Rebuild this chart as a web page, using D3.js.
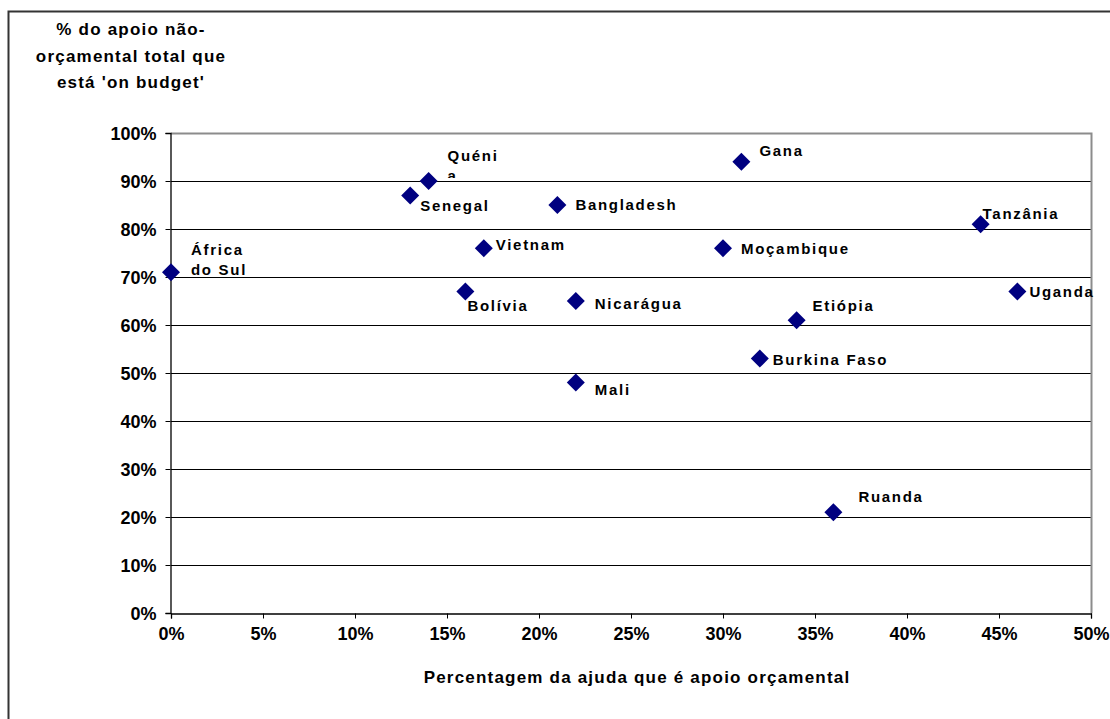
<!DOCTYPE html>
<html lang="pt">
<head>
<meta charset="utf-8">
<script src="https://cdn.jsdelivr.net/npm/d3@7"></script>
<style>
  html, body { margin: 0; padding: 0; background: #fff; }
  svg { display: block; font-family: Arial, "Liberation Sans", sans-serif; }
</style>
</head>
<body>
<svg id="chart" width="1110" height="719"></svg>
<script>
// Country names
const countries = ["África do Sul", "Senegal", "Quénia", "Bolívia", "Vietnam", "Bangladesh",
  "Nicarágua", "Mali", "Moçambique", "Gana", "Burkina Faso", "Etiópia", "Ruanda", "Tanzânia", "Uganda"];
// % of aid given as budget support
const budgetSupport = [0, 13, 14, 16, 17, 21, 22, 22, 30, 31, 32, 34, 36, 44, 46];
// % of non-budget support that is 'on budget'
const onBudget = [71, 87, 90, 67, 76, 85, 65, 48, 76, 94, 53, 61, 21, 81, 67];

// Tick values
const xTicks = [0, 5, 10, 15, 20, 25, 30, 35, 40, 45, 50];
const yTicks = [0, 10, 20, 30, 40, 50, 60, 70, 80, 90, 100];

// Label text lines and offsets (px) from each marker to the label's first baseline
const labelLines = [["África", "do Sul"], ["Senegal"], ["Quéni", "a"], ["Bolívia"], ["Vietnam"], ["Bangladesh"],
  ["Nicarágua"], ["Mali"], ["Moçambique"], ["Gana"], ["Burkina Faso"], ["Etiópia"], ["Ruanda"], ["Tanzânia"], ["Uganda"]];
const labelDx = [20, 10, 19, 2, 12, 18, 19, 19, 18, 18, 13, 16, 25, 2, 12];
const labelDy = [-17, 16, -20, 20, 1.5, 5, 8, 12, 6, -6, 6, -9, -10, -5, 6];

const svg = d3.select("#chart");
const plot = { left: 171, right: 1091, top: 133, bottom: 613 };

const x = d3.scaleLinear().domain([0, 50]).range([plot.left, plot.right]);
const y = d3.scaleLinear().domain([0, 100]).range([plot.bottom, plot.top]);

// Outer chart frame (runs off the right and bottom edges)
svg.append("rect")
  .attr("x", 8.5).attr("y", 11.5)
  .attr("width", 1120).attr("height", 720)
  .attr("fill", "none").attr("stroke", "#333").attr("stroke-width", 2);

// Horizontal gridlines
svg.append("g")
  .selectAll("line")
  .data(yTicks.filter(d => d > 0 && d < 100))
  .join("line")
  .attr("x1", plot.left).attr("x2", plot.right)
  .attr("y1", d => Math.round(y(d)) + 0.5).attr("y2", d => Math.round(y(d)) + 0.5)
  .attr("stroke", "#000").attr("stroke-width", 1);

// Plot area border (top and right, grey)
svg.append("path")
  .attr("d", `M${plot.left},${plot.top + 0.5}H${plot.right + 0.5}V${plot.bottom}`)
  .attr("fill", "none").attr("stroke", "#8c8c8c").attr("stroke-width", 2);

// Axes
const xAxis = d3.axisBottom(x).tickValues(xTicks).tickSize(5).tickPadding(9)
  .tickFormat(d => d + "%");
const yAxis = d3.axisLeft(y).tickValues(yTicks).tickSize(5).tickPadding(9)
  .tickFormat(d => d + "%");

const gx = svg.append("g").attr("transform", `translate(0,${plot.bottom + 0.5})`).call(xAxis);
const gy = svg.append("g").attr("transform", `translate(${plot.left - 0.5},0)`).call(yAxis);

[gx, gy].forEach(g => {
  g.select(".domain").attr("stroke", "#000").attr("stroke-width", 1.3);
  g.selectAll(".tick line").attr("stroke", "#000").attr("stroke-width", 1);
  g.selectAll(".tick text")
    .attr("fill", "#000")
    .attr("font-size", 18)
    .attr("font-weight", "bold")
    .attr("font-family", "Arial, 'Liberation Sans', sans-serif");
});
gx.selectAll(".tick text").attr("dy", "0.71em");
gy.selectAll(".tick text").attr("dy", "0.35em");

// Axis titles
svg.append("text")
  .attr("x", (plot.left + plot.right) / 2 + 6)
  .attr("y", 683)
  .attr("text-anchor", "middle")
  .attr("font-size", 17).attr("font-weight", "bold")
  .attr("letter-spacing", 1.2)
  .text("Percentagem da ajuda que é apoio orçamental");

const yTitle = ["% do apoio não-", "orçamental total que", "está 'on budget'"];
svg.append("text")
  .attr("text-anchor", "middle")
  .attr("font-size", 17).attr("font-weight", "bold")
  .attr("letter-spacing", 1.2)
  .selectAll("tspan")
  .data(yTitle)
  .join("tspan")
  .attr("x", 131)
  .attr("y", (d, i) => 35 + i * 26.5)
  .text(d => d);

// Data
const points = countries.map((c, i) => ({
  name: c, xv: budgetSupport[i], yv: onBudget[i],
  lines: labelLines[i], dx: labelDx[i], dy: labelDy[i]
}));

// Markers
const r = 9;
svg.append("g")
  .selectAll("path")
  .data(points)
  .join("path")
  .attr("transform", d => `translate(${x(d.xv)},${y(d.yv)})`)
  .attr("d", `M0,${-r}L${r},0L0,${r}L${-r},0Z`)
  .attr("fill", "#000080");

// Label boxes; the wrapped Quénia label is cut off just above its marker
const defs = svg.append("defs");
points.forEach((d, i) => {
  defs.append("clipPath").attr("id", "lbl-clip-" + i)
    .append("rect")
    .attr("x", x(d.xv) + d.dx - 4)
    .attr("y", y(d.yv) + d.dy - 20)
    .attr("width", 160)
    .attr("height", d.name === "Quénia" ? 37 : 60);
});

// Labels
const labels = svg.append("g")
  .selectAll("text")
  .data(points)
  .join("text")
  .attr("clip-path", (d, i) => `url(#lbl-clip-${i})`)
  .attr("font-size", 15).attr("font-weight", "bold")
  .attr("letter-spacing", 1.7)
  .attr("fill", "#000");

labels.selectAll("tspan")
  .data(d => d.lines.map((t, k) => ({ t, k, p: d })))
  .join("tspan")
  .attr("x", d => x(d.p.xv) + d.p.dx)
  .attr("y", d => y(d.p.yv) + d.p.dy + d.k * 20)
  .text(d => d.t);
</script>
</body>
</html>
